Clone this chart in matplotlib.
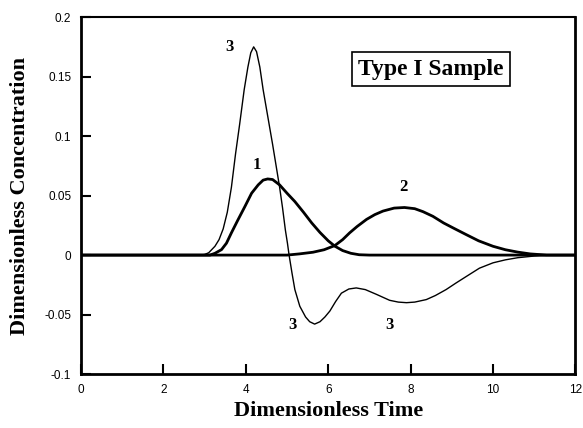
#!/usr/bin/env python3
# -*- coding: utf-8 -*-

"""
Type I sample: dimensionless concentration against dimensionless time
"""

import matplotlib
matplotlib.use('Agg')
import matplotlib.pyplot as plt

# Curve 1 (thick)
t1 = [0.0, 3.13, 3.25, 3.41, 3.53, 3.65, 3.8, 3.98, 4.14, 4.3, 4.42, 4.53,
      4.65, 4.82, 5.0, 5.19, 5.4, 5.6, 5.8, 6.0, 6.16, 6.35, 6.55, 6.75,
      7.0, 12.0]
c1 = [0.0, 0.0, 0.0015, 0.0046, 0.01, 0.0187, 0.029, 0.041, 0.052, 0.059,
      0.063, 0.064, 0.0635, 0.059, 0.052, 0.045, 0.036, 0.027, 0.019,
      0.012, 0.0075, 0.0038, 0.0015, 0.0003, 0.0, 0.0]

# Curve 2 (thick)
t2 = [0.0, 5.0, 5.3, 5.63, 5.9, 6.16, 6.35, 6.52, 6.7, 6.93, 7.13, 7.33,
      7.6, 7.85, 8.1, 8.3, 8.54, 8.8, 9.05, 9.35, 9.65, 10.0, 10.3, 10.6,
      10.9, 11.3, 12.0]
c2 = [0.0, 0.0, 0.001, 0.0024, 0.0045, 0.008, 0.013, 0.0187, 0.024, 0.030,
      0.034, 0.037, 0.0395, 0.040, 0.039, 0.0365, 0.0326, 0.027, 0.0225,
      0.0172, 0.012, 0.0074, 0.0045, 0.0025, 0.001, 0.0, 0.0]

# Curve 3 (thin)
t3 = [0.0, 2.9, 3.0, 3.1, 3.25, 3.35, 3.45, 3.55, 3.65, 3.75, 3.85, 3.96,
      4.05, 4.12, 4.19, 4.26, 4.34, 4.42, 4.53, 4.65, 4.74, 4.82, 4.89,
      4.96, 5.01, 5.05, 5.12, 5.19, 5.31, 5.45, 5.55, 5.67, 5.8, 5.92,
      6.04, 6.18, 6.32, 6.5, 6.68, 6.9, 7.17, 7.49, 7.7, 7.9, 8.1, 8.38,
      8.6, 8.86, 9.1, 9.35, 9.67, 10.0, 10.3, 10.6, 11.0, 11.4, 12.0]
c3 = [0.0, 0.0, 0.0005, 0.002, 0.0074, 0.013, 0.022, 0.036, 0.057, 0.085,
      0.11, 0.139, 0.158, 0.17, 0.175, 0.171, 0.158, 0.139, 0.117, 0.093,
      0.074, 0.057, 0.04, 0.021, 0.01, 0.0, -0.015, -0.029, -0.043,
      -0.052, -0.056, -0.058, -0.056, -0.052, -0.047, -0.039, -0.032,
      -0.0285, -0.0276, -0.029, -0.033, -0.038, -0.0395, -0.040, -0.0395,
      -0.0374, -0.034, -0.029, -0.0235, -0.018, -0.011, -0.0065, -0.004,
      -0.0022, -0.0008, 0.0, 0.0]

x_ticks = [0, 2, 4, 6, 8, 10, 12]
y_ticks = [-0.1, -0.05, 0, 0.05, 0.1, 0.15, 0.2]
y_tick_labels = ['-0.1', '-0.05', '0', '0.05', '0.1', '0.15', '0.2']

# Curve labels: (text, t, c)
labels = [('3', 3.61, 0.175), ('1', 4.26, 0.076), ('2', 7.83, 0.0576),
          ('3', 5.13, -0.059), ('3', 7.49, -0.059)]


def main():
    fig = plt.figure(figsize=(5.83, 4.28), dpi=100)
    ax = fig.add_axes([0.139, 0.126, 0.848, 0.834])

    ax.plot(t1, c1, color='black', linewidth=2.0, solid_joinstyle='round')
    ax.plot(t2, c2, color='black', linewidth=2.0, solid_joinstyle='round')
    ax.plot(t3, c3, color='black', linewidth=1.0, solid_joinstyle='round')

    for text, t, c in labels:
        ax.text(t, c, text, fontsize=12, fontweight='bold',
                family='Liberation Serif', ha='center', va='center')

    ax.text(0.708, 0.854, 'Type I Sample', transform=ax.transAxes,
            fontsize=17, fontweight='bold', family='Liberation Serif',
            ha='center', va='center',
            bbox=dict(boxstyle='square,pad=0.28', facecolor='white',
                      edgecolor='black', linewidth=1.2))

    ax.set_xlim(0, 12)
    ax.set_ylim(-0.1, 0.2)
    ax.set_xticks(x_ticks)
    ax.set_xticklabels([str(v) for v in x_ticks])
    ax.set_yticks(y_ticks)
    ax.set_yticklabels(y_tick_labels)
    ax.tick_params(direction='in', length=7, width=1.5, labelsize=8.5,
                   pad=7)
    for lab in ax.get_xticklabels() + ax.get_yticklabels():
        lab.set_family('Liberation Sans')

    for side in ['left', 'bottom', 'right']:
        ax.spines[side].set_linewidth(2.0)
    ax.spines['top'].set_linewidth(1.5)

    ax.set_xlabel('Dimensionless Time', fontsize=16, fontweight='bold',
                  family='Liberation Serif', labelpad=4)
    ax.set_ylabel('Dimensionless Concentration', fontsize=16,
                  fontweight='bold', family='Liberation Serif', labelpad=10)

    fig.savefig('out.png', dpi=100)
    plt.close('all')


if __name__ == '__main__':
    main()
